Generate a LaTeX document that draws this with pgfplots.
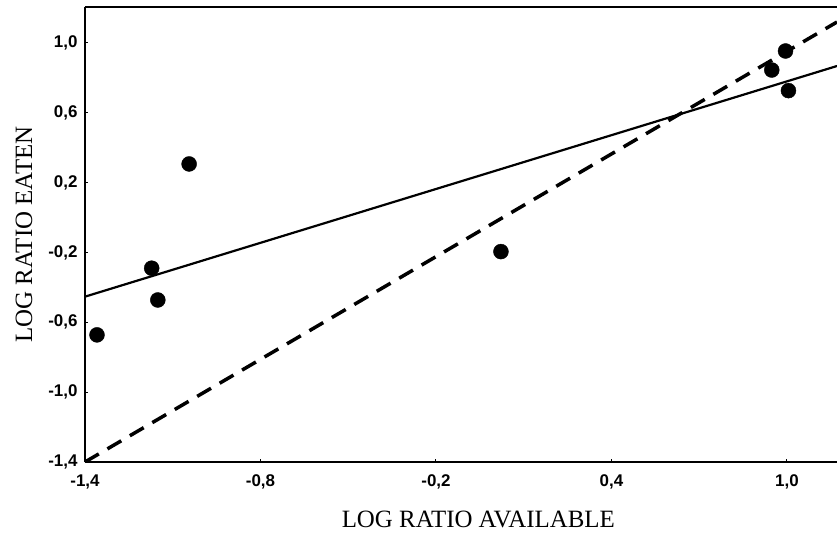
\documentclass[border=0pt]{standalone}
\usepackage{fontspec}
\setmainfont{Liberation Serif}
\newfontfamily\ticksans{Liberation Sans}
\usepackage{pgfplots}
\pgfplotsset{compat=1.18}
\begin{document}
\begin{tikzpicture}
\path[use as bounding box] (-85bp,-72bp) rectangle (752bp,462bp);
\begin{axis}[
  scale only axis,
  width=752bp, height=455bp,
  xmin=-1.4, xmax=1.171,
  ymin=-1.4, ymax=1.206,
  axis lines=left,
  axis line style={-, line width=1.6bp},
  xtick={-1.4,-0.8,-0.2,0.4,1.0},
  ytick={-1.4,-1.0,-0.6,-0.2,0.2,0.6,1.0},
  tick align=inside,
  major tick length=3bp,
  tick style={line width=1bp, black},
  /pgf/number format/.cd, fixed, fixed zerofill, precision=1, use comma, assume math mode=true,
  /pgfplots/.cd,
  ticklabel style={font=\ticksans\bfseries\fontsize{17}{20}\selectfont},
  xticklabel style={yshift=-9bp},
  yticklabel style={xshift=-4bp},
  xlabel={LOG RATIO AVAILABLE},
  ylabel={LOG RATIO EATEN},
  label style={font=\fontsize{25}{30}\selectfont},
  xlabel style={at={(axis description cs:0.523,-0.127)}, anchor=center},
  ylabel style={at={(axis description cs:-0.0811,0.5)}, anchor=center, rotate=0},
]
\addplot[only marks, mark=*, mark size=7.5bp, black] coordinates {
  (-1.359,-0.672) (-1.172,-0.290) (-1.151,-0.472) (-1.044,0.307)
  (0.022,-0.195) (0.995,0.954) (0.948,0.845) (1.005,0.727)
};
\addplot[black, line width=2.2bp] coordinates {(-1.4,-0.453) (1.171,0.868)};
\addplot[black, line width=3.5bp, dash pattern=on 16bp off 10bp] coordinates {(-1.4,-1.4) (1.171,1.12)};
\draw[line width=1.6bp] (rel axis cs:0,1) -- (rel axis cs:1,1);
\end{axis}
\end{tikzpicture}
\end{document}
